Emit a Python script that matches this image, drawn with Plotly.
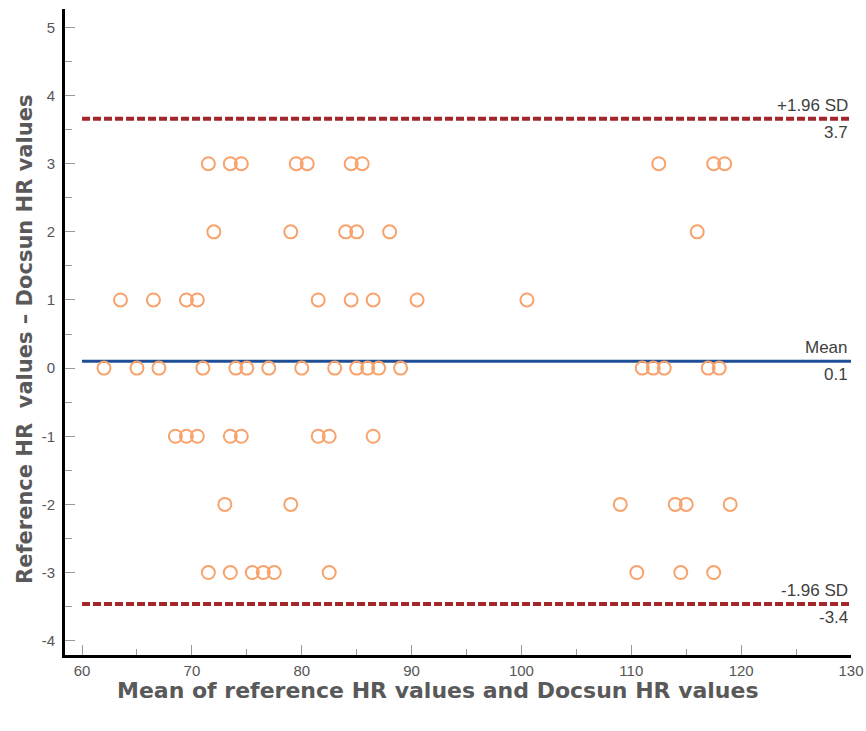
import plotly.graph_objects as go

# Data: (mean of the two methods, difference)
x_p3 = [71.5, 73.5, 74.5, 79.5, 80.5, 84.5, 85.5, 112.5, 117.5, 118.5]
x_p2 = [72.0, 79.0, 84.0, 85.0, 88.0, 116.0]
x_p1 = [63.5, 66.5, 69.5, 70.5, 81.5, 84.5, 86.5, 90.5, 100.5]
x_0 = [62.0, 65.0, 67.0, 71.0, 74.0, 75.0, 77.0, 80.0, 83.0, 85.0, 86.0, 87.0, 89.0,
       111.0, 112.0, 113.0, 117.0, 118.0]
x_m1 = [68.5, 69.5, 70.5, 73.5, 74.5, 81.5, 82.5, 86.5]
x_m2 = [73.0, 79.0, 109.0, 114.0, 115.0, 119.0]
x_m3 = [71.5, 73.5, 75.5, 76.5, 77.5, 82.5, 110.5, 114.5, 117.5]

groups = [(3, x_p3), (2, x_p2), (1, x_p1), (0, x_0), (-1, x_m1), (-2, x_m2), (-3, x_m3)]
xs, ys = [], []
for d, arr in groups:
    xs += arr
    ys += [d] * len(arr)

mean_diff = 0.1
upper_loa = 3.66
lower_loa = -3.46
line_x = [60, 130]

y_ticks = list(range(-4, 6))
y_ticktext = [str(v) for v in y_ticks]  # plain hyphen minus like the reference
x_ticks = [60, 70, 80, 90, 100, 110, 120, 130]

x_title = "Mean of reference HR values and Docsun HR values"
y_title = "Reference HR  values \u2013 Docsun HR values"

fig = go.Figure()
fig.add_trace(go.Scatter(x=line_x, y=[upper_loa] * 2, mode="lines",
                         line=dict(color="#A3262A", width=4, dash="8px,3px"), hoverinfo="skip"))
fig.add_trace(go.Scatter(x=line_x, y=[lower_loa] * 2, mode="lines",
                         line=dict(color="#A3262A", width=4, dash="8px,3px"), hoverinfo="skip"))
fig.add_trace(go.Scatter(x=line_x, y=[mean_diff] * 2, mode="lines",
                         line=dict(color="#1F4E96", width=3), hoverinfo="skip"))
fig.add_trace(go.Scatter(x=xs, y=ys, mode="markers",
                         marker=dict(symbol="circle-open", size=13, color="#F8A26C",
                                     line=dict(width=2, color="#F8A26C"))))

ann_font = dict(family="Liberation Sans, Arial", size=17, color="#404040")
labels = [(upper_loa, "+1.96 SD", "3.7"), (mean_diff, "Mean", "0.1"), (lower_loa, "-1.96 SD", "-3.4")]
for yv, top, bot in labels:
    fig.add_annotation(x=130, y=yv, xref="x", yref="y", text=top, showarrow=False,
                       xanchor="right", yanchor="bottom", yshift=2, xshift=-1, font=ann_font)
    fig.add_annotation(x=130, y=yv, xref="x", yref="y", text=bot, showarrow=False,
                       xanchor="right", yanchor="top", yshift=-2, xshift=-1, font=ann_font)

title_font_x = dict(family="DejaVu Sans", size=22, color="#595959")
title_font_y = dict(family="DejaVu Sans", size=21, color="#595959")
fig.add_annotation(x=438, y=731 - 690, xref="paper", yref="paper", text=f"<b>{x_title}</b>",
                   showarrow=False, xanchor="center", yanchor="middle", font=title_font_x)
fig.add_annotation(x=25, y=731 - 340, xref="paper", yref="paper", text=f"<b>{y_title}</b>",
                   showarrow=False, xanchor="center", yanchor="middle", textangle=-90,
                   font=title_font_y)

tick_font = dict(family="Liberation Sans, Arial", size=15, color="#555555")

fig.update_layout(
    width=866, height=731,
    margin=dict(l=65, r=15, t=9, b=76),
    plot_bgcolor="white", paper_bgcolor="white",
    showlegend=False,
    xaxis=dict(range=[58.45, 130], tickvals=x_ticks, automargin=False,
               showgrid=False, zeroline=False, showline=True, linecolor="black", linewidth=3,
               ticks="inside", ticklen=10, tickcolor="#999999", tickwidth=1,
               minor=dict(tickvals=[65, 75, 85, 95, 105, 115, 125], ticks="inside",
                          ticklen=6, tickcolor="#999999", tickwidth=1),
               tickfont=tick_font),
    yaxis=dict(range=[-4.21, 5.27], tickvals=y_ticks, ticktext=y_ticktext, automargin=False,
               showgrid=False, zeroline=False, showline=True, linecolor="black", linewidth=3,
               ticks="inside", ticklen=10, tickcolor="#999999", tickwidth=1,
               ticklabelstandoff=4,
               minor=dict(tickvals=[-3.5, -2.5, -1.5, -0.5, 0.5, 1.5, 2.5, 3.5, 4.5],
                          ticks="inside", ticklen=7, tickcolor="#999999", tickwidth=1),
               tickfont=tick_font),
)
# paper-coordinate annotations placed in pixel terms
for a in fig.layout.annotations:
    if a.xref == "paper":
        pass

# convert pixel positions to paper fractions relative to the plot area
pl, pr, pt, pb = 65, 866 - 15, 9, 731 - 76
new_anns = []
for a in fig.layout.annotations:
    if a.xref == "paper":
        px, py_from_bottom = a.x, a.y
        py = 731 - py_from_bottom
        a.x = (px - pl) / (pr - pl)
        a.y = (pb - py) / (pb - pt)
    new_anns.append(a)
fig.layout.annotations = new_anns

fig.write_html("out.html")
